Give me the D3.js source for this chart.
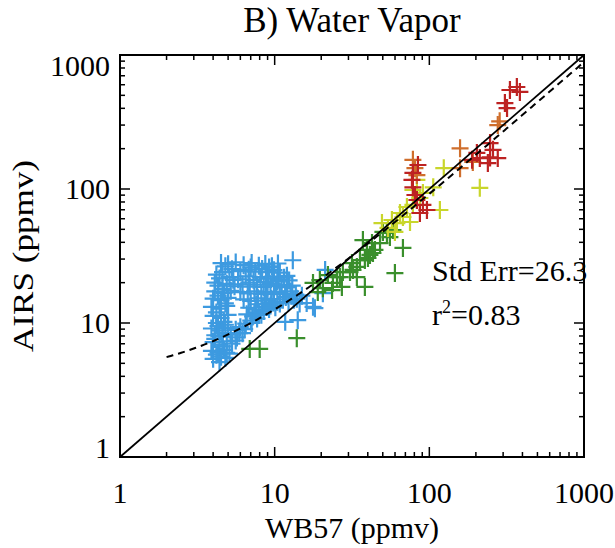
<!DOCTYPE html>
<html>
<head>
<meta charset="utf-8">
<script src="https://cdn.jsdelivr.net/npm/d3@7/dist/d3.min.js"></script>
<style>
  body { margin: 0; background: #fff; }
  text { font-family: "Liberation Serif", "Times New Roman", serif; fill: #000; }
</style>
</head>
<body>
<div id="chart"></div>
<script>
// [WB57, AIRS] pairs (ppmv), one array per colour group
var bluePts = [
  [4.5,28.0],[4.8,26.5],[5.0,27.5],[5.6,28.3],[6.3,27.0],[7.1,28.0],[7.9,26.8],[8.7,27.6],[9.6,26.5],[10.5,27.8],
  [4.6,24.0],[5.3,25.2],[6.0,24.4],[6.8,25.0],[7.5,24.2],[8.3,25.3],[9.1,24.0],[9.9,24.8],[10.8,23.8],
  [4.4,21.5],[5.1,22.0],[5.8,21.2],[6.5,22.3],[7.3,21.0],[8.1,22.0],[8.9,21.4],[9.7,22.2],[10.6,21.0],[11.5,21.8],[12.4,20.8],
  [4.3,19.0],[4.9,19.6],[5.5,18.8],[6.2,19.4],[6.9,18.7],[7.7,19.3],[8.5,18.6],[9.4,19.5],[10.2,18.9],[11.1,19.2],[12.0,18.5],[13.0,19.0],
  [4.1,17.2],[4.7,16.8],[5.2,17.4],[6.0,17.0],[6.7,16.6],[7.4,17.2],[8.2,16.5],[9.0,17.0],[9.9,16.4],[10.8,17.1],[11.7,16.5],[12.7,17.2],[13.7,16.3],
  [4.0,15.2],[4.5,14.8],[5.0,15.4],[6.3,15.0],[7.0,14.6],[7.8,15.3],[8.6,14.7],[9.5,15.1],[10.4,14.4],[11.3,15.0],[12.3,14.3],[13.3,14.9],[14.5,14.0],
  [3.9,13.2],[4.4,12.8],[4.9,13.4],[6.8,13.0],[7.5,12.6],[8.3,13.2],[9.2,12.7],[10.1,13.1],
  [4.0,11.3],[4.5,10.9],[5.0,11.5],[7.2,11.2],[7.9,11.8],
  [4.2,10.0],[4.8,9.7],[6.5,9.9],[7.0,10.4],
  [3.9,9.1],[4.4,8.8],[5.0,9.2],[5.6,8.9],[6.0,9.3],
  [4.1,8.1],[4.6,7.9],[5.2,8.2],[5.7,7.8],[6.2,8.4],
  [4.0,7.2],[4.4,6.9],[4.9,7.3],[5.3,7.0],[5.6,7.4],
  [3.9,6.2],[4.3,6.0],[4.7,6.3],[5.1,5.9],
  [4.0,5.4],[4.4,5.1],[4.8,5.5],[4.2,5.8],
  [7.6,13.8],[8.8,13.9],[9.8,14.2],[11.8,15.6],[12.8,16.0],[13.9,15.2],[6.6,11.6],[7.4,12.0],[8.5,12.3],[9.4,13.5],
  [5.9,8.4],[6.4,9.0],[7.1,10.0],[7.7,10.8],[8.2,11.5],[10.8,14.0],[5.4,21.0],[6.8,20.0],[8.8,20.2],[10.4,20.4],
  [12.0,22.5],[7.0,26.0],[9.2,26.0],[4.2,23.0],[4.1,20.0],[4.6,18.0],[4.3,16.0],[4.8,14.0],[4.2,12.0],[4.7,10.2],
  [4.3,9.5],[4.6,8.4],[4.1,7.6],[4.6,6.7],[4.9,6.0],[4.5,5.6],
  [13.1,29.4],[21.2,24.9],[20.5,16.7],[18.2,12.9],[14.1,10.5],[11.7,10.2],[16.1,14.1],[17.7,13.2],[15.0,16.0]
];
var greenPts = [
  [6.9,6.4],[8.0,6.4],[13.9,7.7],[17.7,19.9],[19.0,17.0],[20.5,18.2],[22.1,22.8],[23.5,17.6],[23.8,19.9],
  [25.3,22.0],[26.4,22.0],[27.2,18.6],[27.6,24.0],[30.7,24.0],[31.6,28.0],[34.0,26.2],[34.0,22.0],[35.6,29.5],
  [38.3,29.5],[38.3,18.6],[40.1,30.6],[41.3,32.2],[42.6,39.5],[43.2,33.3],[44.5,35.1],[37.2,41.6],[48.0,39.5],
  [50.1,47.8],[53.2,47.0],[55.6,43.8],[58.2,49.4],[59.9,23.6],[67.5,36.3],[19.6,20.9],[32.1,24.9],[39.5,35.1]
];
var yellowPts = [
  [49.4,55.7],[57.3,58.7],[61.7,55.7],[64.6,66.2],[67.5,61.8],[71.6,73.4],[75.0,56.7],[78.3,98.3],[83.1,117],
  [90.9,93.4],[106,103],[117,69.7],[124,143],[212,102],[54.0,51.2],[59.9,47.8],[78.3,76.0],[86.9,85.7]
];
var orangePts = [
  [158,201],[158,143],[191,159],[277,300],[285,320],[78.3,165],[80.7,143],[83.1,127]
];
var redPts = [
  [332,548],[368,577],[385,530],[308,438],[318,402],[247,220],[258,196],[203,186],[212,170],[247,172],
  [277,170],[239,156],[189,165],[78.3,132],[77.2,117],[78.3,103],[80.7,90.2],[83.1,82.8],[90.9,76.0],
  [96.5,69.7],[86.9,66.2],[84.4,151]
];
var groups = [
  { pts: bluePts,   color: "#3d9ae0" },
  { pts: greenPts,  color: "#3a8f2c" },
  { pts: yellowPts, color: "#c9d62c" },
  { pts: orangePts, color: "#cf6e2c" },
  { pts: redPts,    color: "#bd2222" }
];

// linear least-squares fit AIRS = a + b*WB57
var fitIntercept = 3.8, fitSlope = 0.883, fitRange = [2, 1000];
var majorTicks = [1, 10, 100, 1000];
var stdErrText = "Std Err=26.3";
var r2Value = "=0.83";

var margin = {top: 55, right: 31, bottom: 91, left: 120},
    width = 615 - margin.left - margin.right,
    height = 548 - margin.top - margin.bottom;

var svg = d3.select("#chart").append("svg")
  .attr("width", 615)
  .attr("height", 548);

var g = svg.append("g")
  .attr("transform", "translate(" + margin.left + "," + margin.top + ")");

var x = d3.scaleLog().domain([1, 1000]).range([0, width]);
var y = d3.scaleLog().domain([1, 1000]).range([height, 0]);

var minorTicks = [];
[1, 10, 100].forEach(function(d) {
  for (var k = 2; k <= 9; k++) minorTicks.push(d * k);
});

// points
var cross = "M-8.5,0H8.5M0,-9V9";
groups.forEach(function(grp) {
  g.selectAll(null)
    .data(grp.pts)
    .enter().append("path")
    .attr("d", cross)
    .attr("transform", function(d) { return "translate(" + x(d[0]) + "," + y(d[1]) + ")"; })
    .attr("stroke", grp.color)
    .attr("stroke-width", 2.2)
    .attr("fill", "none");
});

// 1:1 line
g.append("line")
  .attr("x1", x(1)).attr("y1", y(1))
  .attr("x2", x(1000)).attr("y2", y(1000))
  .attr("stroke", "#000")
  .attr("stroke-width", 1.8);

// fit line (dashed)
var fitXs = d3.range(0, 201).map(function(i) {
  return fitRange[0] * Math.pow(fitRange[1] / fitRange[0], i / 200);
});
g.append("path")
  .datum(fitXs)
  .attr("d", d3.line()
    .x(function(d) { return x(d); })
    .y(function(d) { return y(fitIntercept + fitSlope * d); }))
  .attr("fill", "none")
  .attr("stroke", "#000")
  .attr("stroke-width", 2)
  .attr("stroke-dasharray", "7,5");

// frame
g.append("rect")
  .attr("width", width)
  .attr("height", height)
  .attr("fill", "none")
  .attr("stroke", "#000")
  .attr("stroke-width", 2);

// ticks on all four sides
function addTicks(vals, len) {
  vals.forEach(function(v) {
    g.append("line").attr("x1", x(v)).attr("x2", x(v)).attr("y1", height).attr("y2", height - len)
      .attr("stroke", "#000").attr("stroke-width", 1.5);
    g.append("line").attr("x1", x(v)).attr("x2", x(v)).attr("y1", 0).attr("y2", len)
      .attr("stroke", "#000").attr("stroke-width", 1.5);
    g.append("line").attr("y1", y(v)).attr("y2", y(v)).attr("x1", 0).attr("x2", len)
      .attr("stroke", "#000").attr("stroke-width", 1.5);
    g.append("line").attr("y1", y(v)).attr("y2", y(v)).attr("x1", width).attr("x2", width - len)
      .attr("stroke", "#000").attr("stroke-width", 1.5);
  });
}
addTicks(majorTicks, 10);
addTicks(minorTicks, 5);

// tick labels
g.selectAll(".xlab")
  .data(majorTicks)
  .enter().append("text")
  .attr("class", "xlab")
  .attr("x", function(d) { return x(d); })
  .attr("y", height + 46)
  .attr("text-anchor", "middle")
  .attr("font-size", 30)
  .text(function(d) { return d; });

g.selectAll(".ylab")
  .data(majorTicks)
  .enter().append("text")
  .attr("class", "ylab")
  .attr("x", -10)
  .attr("y", function(d) { return Math.min(Math.max(y(d), 11), height - 9); })
  .attr("dy", "0.34em")
  .attr("text-anchor", "end")
  .attr("font-size", 30)
  .text(function(d) { return d; });

// axis titles
svg.append("text")
  .attr("x", margin.left + width / 2)
  .attr("y", 538)
  .attr("text-anchor", "middle")
  .attr("font-size", 30)
  .text("WB57 (ppmv)");

svg.append("text")
  .attr("transform", "translate(33," + 256 + ")rotate(-90)")
  .attr("text-anchor", "middle")
  .attr("font-size", 30)
  .attr("textLength", 192)
  .attr("lengthAdjust", "spacingAndGlyphs")
  .text("AIRS (ppmv)");

svg.append("text")
  .attr("x", margin.left + width / 2)
  .attr("y", 32)
  .attr("text-anchor", "middle")
  .attr("font-size", 35)
  .text("B) Water Vapor");

// stats
svg.append("text")
  .attr("x", 432)
  .attr("y", 281)
  .attr("font-size", 30)
  .text(stdErrText);

var r2 = svg.append("text")
  .attr("x", 432)
  .attr("y", 325)
  .attr("font-size", 30);
r2.append("tspan").text("r");
r2.append("tspan").attr("font-size", 18).attr("dy", -12).text("2");
r2.append("tspan").attr("dy", 12).text(r2Value);
</script>
</body>
</html>
